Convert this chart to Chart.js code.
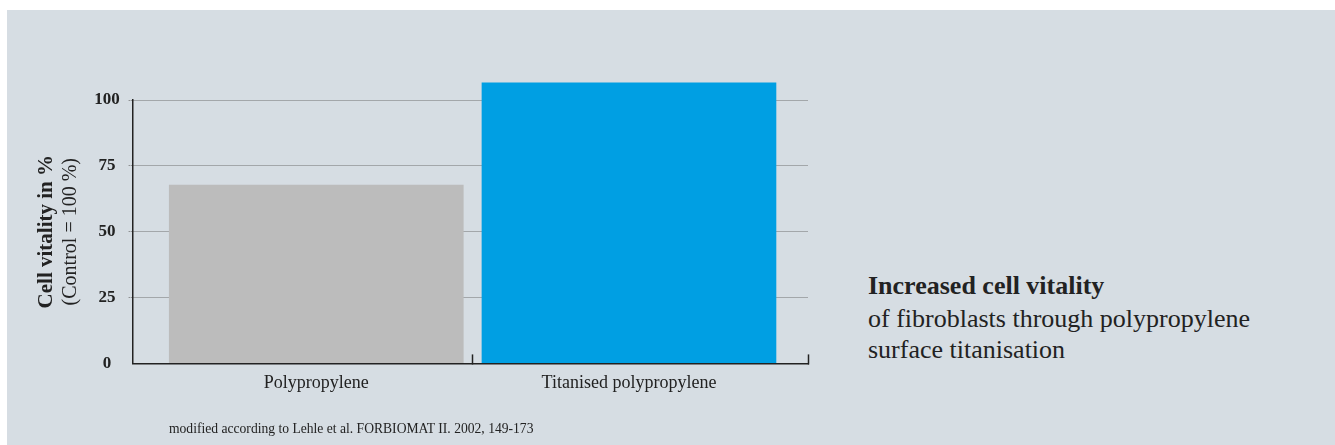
<!doctype html>
<html>

<head>
	<title>Cell vitality</title>
	<script src="https://cdn.jsdelivr.net/npm/chart.js@4.4.0/dist/chart.umd.min.js"></script>
	<style>
		body { margin: 0; background: #fff; font-family: "Liberation Serif", serif; color: #222; }
		#panel { position: absolute; left: 7px; top: 10px; width: 1328px; height: 435px; background: #d6dde3; }
		#holder { position: absolute; left: 0; top: 0; width: 850px; height: 445px; }
		.side { position: absolute; left: 868px; font-size: 26px; line-height: 30px; white-space: nowrap; }
		#note { position: absolute; left: 169px; top: 421px; font-size: 13.6px; line-height: 16px; white-space: nowrap; }
	</style>
</head>

<body>
	<div id="panel"></div>
	<div id="holder">
		<canvas id="chart-area" width="850" height="445"></canvas>
	</div>
	<div class="side" style="top:271px;font-weight:bold">Increased cell vitality</div>
	<div class="side" style="top:304px">of fibroblasts through polypropylene</div>
	<div class="side" style="top:335px">surface titanisation</div>
	<div id="note">modified according to Lehle et al. FORBIOMAT II. 2002, 149-173</div>
	<script>
		var categories = ['Polypropylene', 'Titanised polypropylene'];
		var vitality = [67.7, 106.5];
		var barColors = ['#bcbcbc', '#009fe3'];
		var yTicks = [0, 25, 50, 75, 100];

		var ink = '#222';
		var dots = '#707070';

		var config = {
			type: 'bar',
			data: {
				datasets: [{
					data: vitality.map(function(v, i) { return {x: i, y: v}; }),
					backgroundColor: barColors,
					barThickness: 294,
					clip: false
				}]
			},
			options: {
				responsive: false,
				animation: false,
				layout: {
					padding: {top: 100, bottom: 33, left: 0, right: 42}
				},
				plugins: {
					legend: {display: false},
					tooltip: {enabled: false}
				},
				scales: {
					x: {
						type: 'linear',
						offset: false,
						min: -0.587,
						max: 1.5725,
						afterBuildTicks: function(scale) {
							scale.ticks = [0, 0.5, 1, scale.max].map(function(v) { return {value: v}; });
						},
						ticks: {
							autoSkip: false,
							maxRotation: 0,
							padding: 18,
							color: ink,
							font: {family: 'Liberation Serif', size: 18},
							callback: function(v) { return categories[v] || ''; }
						},
						grid: {
							offset: false,
							drawOnChartArea: false,
							tickLength: -9,
							tickWidth: 1.5,
							tickColor: function(ctx) {
								var v = ctx.tick ? ctx.tick.value : null;
								return (v === 0.5 || v === ctx.scale.max) ? ink : 'rgba(0,0,0,0)';
							}
						},
						border: {color: ink, width: 1.5, z: 1}
					},
					y: {
						min: 0,
						max: 100,
						afterBuildTicks: function(scale) {
							scale.ticks = yTicks.map(function(v) { return {value: v}; });
						},
						ticks: {
							crossAlign: 'center',
							padding: 9,
							color: ink,
							font: {family: 'Liberation Serif', size: 17, weight: 'bold'}
						},
						grid: {
							tickLength: 4,
							color: function(ctx) { return ctx.tick && ctx.tick.value === 0 ? 'rgba(0,0,0,0)' : dots; },
							tickColor: function(ctx) { return ctx.tick && ctx.tick.value === 0 ? 'rgba(0,0,0,0)' : dots; },
							tickBorderDash: [1, 1]
						},
						border: {color: ink, width: 1.5, dash: [1, 1]},
						title: {
							display: true,
							text: '(Control = 100 %)',
							color: ink,
							padding: {top: 0, bottom: 2},
							font: {family: 'Liberation Serif', size: 20}
						}
					},
					y2: {
						position: 'left',
						weight: 1,
						grid: {display: false, drawTicks: false},
						border: {display: false},
						ticks: {display: false},
						title: {
							display: true,
							text: 'Cell vitality in %',
							color: ink,
							padding: {top: 34, bottom: 0},
							font: {family: 'Liberation Serif', size: 21, weight: 'bold'}
						}
					}
				}
			}
		};

		window.onload = function() {
			var ctx = document.getElementById('chart-area').getContext('2d');
			window.myBar = new Chart(ctx, config);
		};
	</script>
</body>

</html>
